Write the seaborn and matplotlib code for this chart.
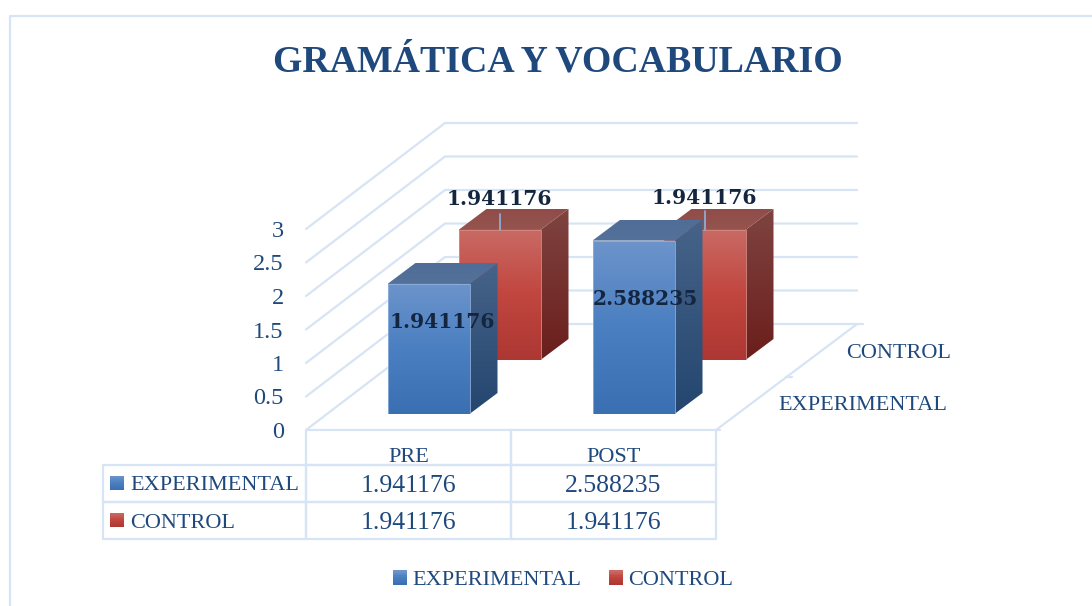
import numpy as np
import matplotlib
matplotlib.use("Agg")
import matplotlib.pyplot as plt
import seaborn as sns
from matplotlib.colors import LinearSegmentedColormap
from matplotlib.legend_handler import HandlerBase
from matplotlib.patches import Patch, Polygon, Rectangle
from matplotlib.table import Table

categories = ["PRE", "POST"]
experimental = [1.941176, 2.588235]
control = [1.941176, 1.941176]
y_ticks = [0, 0.5, 1, 1.5, 2, 2.5, 3]
series_names = ["EXPERIMENTAL", "CONTROL"]
title = "GRAMÁTICA Y VOCABULARIO"

W, H = 1092, 606
LINE = "#d7e4f5"
TEXT = "#1f497d"
LABEL = "#14263f"
SERIF = "Liberation Serif"

BLUE = {"front": ["#6d94cb", "#4a7fc1", "#3a70b2"], "side": ["#476389", "#24466f"],
        "top": ["#4f6d96", "#54719a"]}
RED = {"front": ["#c96a64", "#c1463f", "#ad3733"], "side": ["#7f4440", "#6b1e1c"],
       "top": ["#8f4c48", "#96544f"]}

sns.set_theme(style="white")
plt.rcParams["font.family"] = [SERIF, "DejaVu Serif"]


def px_axes(fig, left, right, bottom, top, zorder):
    """Axes placed by pixel edges, y counted from the top of the image."""
    ax = fig.add_axes([left / W, 1 - bottom / H, (right - left) / W, (bottom - top) / H])
    ax.set_zorder(zorder)
    ax.patch.set_visible(False)
    return ax


def gradient_face(ax, verts, colors):
    xs, ys = zip(*verts)
    cmap = LinearSegmentedColormap.from_list("face", colors)
    xlim, ylim = ax.get_xlim(), ax.get_ylim()
    im = ax.imshow(np.linspace(0, 1, 128)[:, None], cmap=cmap, aspect="auto", origin="upper",
                   extent=(min(xs), max(xs), min(ys), max(ys)), interpolation="bilinear", zorder=2)
    im.set_clip_path(Polygon(verts, transform=ax.transData))
    ax.set_xlim(xlim)
    ax.set_ylim(ylim)


def draw_series(ax, values, colors, edge):
    sns.barplot(x=categories, y=values, ax=ax, width=0.4, color=colors["front"][1], saturation=1)
    ax.set_ylim(0, 3)
    ax.set_xlim(-0.5, 1.5)
    ax.axis("off")
    dx = 28 / 205
    dy = 21 / 67
    for bar in list(ax.patches):
        x0, x1 = bar.get_x(), bar.get_x() + bar.get_width()
        h = bar.get_height()
        gradient_face(ax, [(x0, 0), (x1, 0), (x1, h), (x0, h)], colors["front"])
        gradient_face(ax, [(x1, 0), (x1 + dx, dy), (x1 + dx, h + dy), (x1, h)], colors["side"])
        gradient_face(ax, [(x0, h), (x1, h), (x1 + dx, h + dy), (x0 + dx, h + dy)], colors["top"])
        ax.add_patch(Rectangle((x0, 0), x1 - x0, h, fill=False, ec=edge, lw=0.6, zorder=3))


class GradientHandler(HandlerBase):
    def create_artists(self, legend, orig, xd, yd, width, height, fontsize, trans):
        cmap = LinearSegmentedColormap.from_list("swatch", orig.grad)
        n = 8
        return [Rectangle((-xd, -yd + height * i / n), width, height / n + 0.3,
                          fc=cmap(1 - i / (n - 1)), ec="none", transform=trans)
                for i in range(n)]


fig = plt.figure(figsize=(W / 100, H / 100), dpi=100, facecolor="white")

# pixel overlay for the outer frame and the table swatches
ax_px = px_axes(fig, 0, W, H, 0, 6)
ax_px.set_xlim(0, W)
ax_px.set_ylim(H, 0)
ax_px.axis("off")
ax_px.plot([10, 10, W], [H, 15.5, 15.5], color=LINE, lw=1.6)

# front plane of the box, holds the value axis and the data table
ax = px_axes(fig, 306, 716, 430, 229, 1)
ax.set_xlim(-0.5, 1.5)
ax.set_ylim(0, 3)
ax.set_yticks(y_ticks, [f"{t:g}" for t in y_ticks])
ax.set_xticks([])
ax.tick_params(axis="y", length=0, pad=16, labelsize=17.5, labelcolor=TEXT)
sns.despine(ax=ax, left=True, bottom=True)

# walls and floor
depth_x = 139 / 205
depth_y = 106 / 67
for t in y_ticks:
    ax.plot([-0.5, -0.5 + depth_x, 1.5 + depth_x + 0.01], [t, t + depth_y, t + depth_y],
            color=LINE, lw=1.6, clip_on=False, solid_joinstyle="miter")
ax.plot([1.5, 1.5 + depth_x + 0.01], [0, depth_y], color=LINE, lw=1.6, clip_on=False)
ax.plot([1.5 + depth_x + 0.01, 1.5 + depth_x + 0.04], [depth_y, depth_y], color=LINE, lw=1.6, clip_on=False)
ax.plot([1.5 + depth_x / 2, 1.5 + depth_x / 2 + 0.03], [depth_y / 2, depth_y / 2], color=LINE,
        lw=1.6, clip_on=False)
ax.plot([1.5, 1.52], [0, 0], color=LINE, lw=1.6, clip_on=False)

# depth axis labels
for name, x_off, y_px in [("CONTROL", 951, 353), ("EXPERIMENTAL", 947, 406)]:
    ax_px.text(x_off, y_px, name, color=TEXT, fontsize=16, ha="right", va="center")

# one axes per depth plane, same scales as the front plane
ax_ctrl = px_axes(fig, 306 + 91, 716 + 91, 430 - 70, 229 - 70, 2)
ax_exp = px_axes(fig, 306 + 20, 716 + 20, 430 - 16, 229 - 16, 3)
draw_series(ax_ctrl, control, RED, "#d98a85")
draw_series(ax_exp, experimental, BLUE, "#8fb0dc")

for i, v in enumerate(control):
    ax_ctrl.plot([i, i], [v, v + 16 / 67 + (i * 3 / 67)], color="#8fb4e0", lw=1.2, zorder=4, clip_on=False)
    ax_ctrl.annotate(f"{v:.6f}", (i, v), xytext=(0, 31 + i), textcoords="offset pixels",
                     ha="center", va="center", fontsize=14.6, fontweight="bold",
                     family="DejaVu Serif", color=LABEL, zorder=5, annotation_clip=False)
for i, (v, off) in enumerate(zip(experimental, [(14, -38), (12, -58)])):
    ax_exp.annotate(f"{v:.6f}", (i, v), xytext=off, textcoords="offset pixels",
                    ha="center", va="center", fontsize=14.6, fontweight="bold",
                    family="DejaVu Serif", color=LABEL, zorder=5, annotation_clip=False)

# data table under the plot
table = Table(ax, bbox=[-203 / 410, -109 / 201, 613 / 410, 109 / 201])
widths = [203, 205, 205]
heights = [35, 37, 37]
rows = [["", *categories],
        [series_names[0], *[f"{v:.6f}" for v in experimental]],
        [series_names[1], *[f"{v:.6f}" for v in control]]]
for r, row in enumerate(rows):
    for c, txt in enumerate(row):
        loc = "left" if c == 0 else "center"
        cell = table.add_cell(r, c, widths[c], heights[r], text=txt, loc=loc, facecolor="none")
        cell.set_edgecolor(LINE)
        cell.set_linewidth(1.6)
        cell.get_text().set_color(TEXT)
        # header labels sit low in their row
        cell.get_text().set_verticalalignment("top" if r == 0 else "center_baseline")
        if c == 0:
            cell.PAD = 27 / 203
        if r == 0 and c == 0:
            cell.visible_edges = ""
table.auto_set_font_size(False)
table.set_fontsize(16)
for r in (1, 2):
    for c in (1, 2):
        table[(r, c)].set_fontsize(18.5)
ax.add_table(table)

# y axis of ax_px points down, so the swatch colours run the other way
for (y0, colors) in [(476, BLUE), (513, RED)]:
    gradient_face(ax_px, [(110, y0 + 14), (124, y0 + 14), (124, y0), (110, y0)], colors["front"][::-1])

# legend
handles = []
for name, colors in zip(series_names, [BLUE, RED]):
    h = Patch(label=name)
    h.grad = colors["front"]
    handles.append(h)
fig.legend(handles=handles, loc="center", bbox_to_anchor=(563 / W, 1 - 580 / H), ncol=2,
           frameon=False, fontsize=16, labelcolor=TEXT, handlelength=0.63, handleheight=0.63,
           handletextpad=0.25, columnspacing=1.25,
           handler_map={Patch: GradientHandler()})

ax_px.text(558, 62, title, color=TEXT, fontsize=27.3, fontweight="bold", ha="center", va="center")

fig.savefig("out.png", dpi=100)
